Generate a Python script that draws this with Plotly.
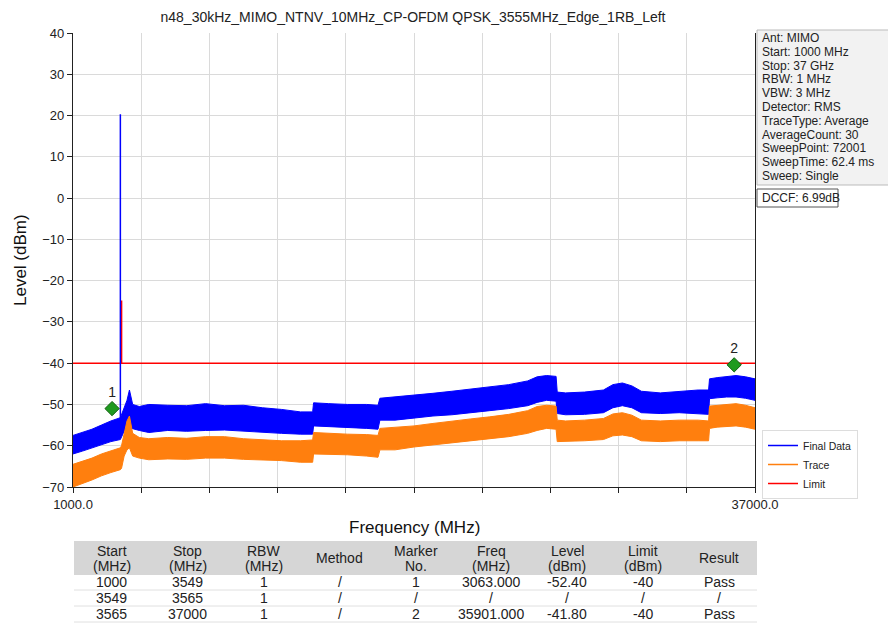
import plotly.graph_objects as go

# ---------------- data ----------------
freq_mhz = [1000, 1500, 2000, 2500, 3000, 3500, 3560, 3700, 3850, 3980, 4150, 4500, 5000, 6000, 7000,
            8000, 9000, 10000, 11000, 12000, 13000, 13650, 13700, 14500, 15500, 16500, 17100, 17200,
            18000, 19000, 20000, 21000, 22000, 23000, 24000, 25000, 25500, 26000, 26500, 26560, 27000,
            28000, 29000, 29500, 30000, 30500, 31000, 32000, 33000, 34000, 34550, 34600, 35000, 35500,
            36000, 36500, 37000]
final_upper = [-57.5, -56.8, -56.0, -55.0, -54.0, -53.2, -52.5, -50.5, -49.0, -46.5, -50.0, -50.5, -50.0,
               -50.2, -50.3, -49.8, -50.3, -50.2, -50.8, -51.2, -51.8, -51.8, -49.6, -49.8, -50.0, -50.0,
               -50.2, -48.5, -48.2, -47.8, -47.3, -46.8, -46.3, -45.8, -45.2, -44.3, -43.3, -43.0, -43.2,
               -47.0, -47.2, -47.0, -46.5, -45.2, -44.8, -45.5, -46.8, -47.2, -46.8, -46.5, -46.5, -43.8,
               -43.5, -43.2, -43.0, -43.3, -43.8]
final_lower = [-62.0, -61.3, -60.5, -59.8, -59.0, -58.5, -58.0, -56.5, -55.5, -55.5, -55.8, -56.3, -56.8,
               -56.3, -56.5, -56.3, -56.2, -56.5, -56.7, -57.0, -57.2, -57.2, -55.2, -55.3, -55.6, -55.8,
               -56.0, -53.8, -53.8, -53.3, -52.8, -52.5, -52.0, -51.5, -51.0, -50.3, -49.5, -49.0, -49.2,
               -52.2, -52.5, -52.4, -52.0, -50.8, -50.3, -50.8, -52.0, -52.2, -52.0, -52.2, -52.4, -48.6,
               -48.4, -48.2, -48.2, -48.5, -49.0]
trace_upper = [-64.5, -63.8, -63.0, -62.0, -61.2, -60.5, -60.0, -57.0, -54.0, -52.8, -57.0, -58.0, -58.3,
               -58.0, -58.2, -57.8, -57.8, -58.3, -58.5, -58.8, -58.8, -58.6, -56.8, -57.0, -57.2, -57.3,
               -57.5, -55.8, -55.5, -55.2, -54.6, -54.0, -53.5, -53.0, -52.4, -51.5, -50.5, -50.2, -50.4,
               -53.8, -54.0, -53.8, -53.4, -52.3, -52.0, -52.6, -53.8, -54.0, -53.8, -53.8, -54.0, -50.4,
               -50.2, -50.0, -49.8, -50.2, -50.8]
trace_lower = [-70.0, -69.2, -68.3, -67.3, -66.5, -65.8, -65.5, -62.5, -61.0, -60.5, -62.5, -63.0, -63.4,
               -63.2, -63.3, -63.0, -63.0, -63.3, -63.5, -63.6, -64.0, -64.0, -62.0, -62.0, -62.2, -62.5,
               -62.8, -61.0, -61.0, -60.3, -59.8, -59.3, -58.8, -58.3, -57.8, -57.0, -56.3, -55.8, -56.0,
               -59.0, -59.0, -58.8, -58.5, -57.6, -57.4, -57.8, -58.8, -59.0, -58.8, -58.8, -58.8, -55.8,
               -55.5, -55.3, -55.2, -55.5, -56.0]

carrier_freq = [3500, 3500]
carrier_level = [-56.0, 20.3]

limit_freq = [1000, 3549, 3549, 3565, 3565, 37000]
limit_level = [-40, -40, -25, -25, -40, -40]

marker_freq = [3063.0, 35901.0]
marker_level = [-51.0, -40.4]
marker_names = ["1", "2"]

info_lines = ["Ant: MIMO", "Start: 1000 MHz", "Stop: 37 GHz", "RBW: 1 MHz", "VBW: 3 MHz",
              "Detector: RMS", "TraceType: Average", "AverageCount: 30", "SweepPoint: 72001",
              "SweepTime: 62.4 ms", "Sweep: Single"]
dccf_text = "DCCF: 6.99dB"

hdr_line1 = ["Start", "Stop", "RBW", "Method", "Marker", "Freq", "Level", "Limit", "Result"]
hdr_line2 = ["(MHz)", "(MHz)", "(MHz)", "", "No.", "(MHz)", "(dBm)", "(dBm)", ""]
col_start = ["1000", "3549", "3565"]
col_stop = ["3549", "3565", "37000"]
col_rbw = ["1", "1", "1"]
col_method = ["/", "/", "/"]
col_marker = ["1", "/", "2"]
col_freq = ["3063.000", "/", "35901.000"]
col_level = ["-52.40", "/", "-41.80"]
col_limit = ["-40", "/", "-40"]
col_result = ["Pass", "/", "Pass"]

x_tickvals = [1000 + 3600 * i for i in range(11)]
x_ticktext = ["1000.0"] + [""] * 9 + ["37000.0"]

# ---------------- figure ----------------
# the page body has an 8px margin, so the figure is drawn 8px smaller and all
# reference-pixel positions are shifted by that offset
OFF = 8
W, H = 896 - OFF, 629 - OFF
L, R, T, B = 73 - OFF, 141, 32 - OFF, 4
PW, PH = W - L - R, H - T - B


def px(xp):
    return (xp - OFF - L) / PW


def py(yp):
    return (H - B - (yp - OFF)) / PH


FONT = "Arial, Liberation Sans, sans-serif"
BLUE, ORANGE, RED = "#0000ff", "#ff7f0e", "#ff0000"
TXT = "#222222"

fig = go.Figure()

fig.add_trace(go.Scatter(x=freq_mhz + freq_mhz[::-1], y=final_upper + final_lower[::-1],
                         fill="toself", fillcolor=BLUE, line=dict(color=BLUE, width=1),
                         mode="lines", showlegend=False, hoverinfo="skip"))
fig.add_trace(go.Scatter(x=freq_mhz + freq_mhz[::-1], y=trace_upper + trace_lower[::-1],
                         fill="toself", fillcolor=ORANGE, line=dict(color=ORANGE, width=1),
                         mode="lines", showlegend=False, hoverinfo="skip"))
fig.add_trace(go.Scatter(x=limit_freq, y=limit_level, mode="lines",
                         line=dict(color=RED, width=1.5), showlegend=False))
fig.add_trace(go.Scatter(x=carrier_freq, y=carrier_level, mode="lines",
                         line=dict(color=BLUE, width=1.5), showlegend=False))
fig.add_trace(go.Scatter(x=marker_freq, y=marker_level, mode="markers+text", text=marker_names,
                         textposition="top center", textfont=dict(size=14, color=TXT, family=FONT),
                         marker=dict(symbol="diamond", size=11, color="#1f9a1f",
                                     line=dict(color="#106010", width=1)),
                         showlegend=False))

# legend entries
for name, col in [("Final Data", BLUE), ("Trace", ORANGE), ("Limit", RED)]:
    fig.add_trace(go.Scatter(x=[None], y=[None], mode="lines", name=name,
                             line=dict(color=col, width=1.5)))

fig.update_layout(
    width=W, height=H, margin=dict(l=L, r=R, t=T, b=B, pad=0, autoexpand=False),
    paper_bgcolor="white", plot_bgcolor="white",
    font=dict(family=FONT, color=TXT),
    title=dict(text="n48_30kHz_MIMO_NTNV_10MHz_CP-OFDM QPSK_3555MHz_Edge_1RB_Left",
               x=(413 - OFF) / W, xanchor="center", y=1 - (17 - OFF) / H, yanchor="middle",
               font=dict(size=14, color=TXT, family=FONT)),
    showlegend=True,
    legend=dict(x=px(762), y=py(430), xanchor="left", yanchor="top",
                bgcolor="white", bordercolor="#dddddd", borderwidth=1,
                font=dict(size=10.5, color=TXT, family=FONT), tracegroupgap=0,
                itemwidth=30),
    xaxis=dict(range=[1000, 37000], tickvals=x_tickvals, ticktext=x_ticktext,
               showgrid=True, gridcolor="#dadada", gridwidth=1,
               showline=True, linecolor=TXT, linewidth=1.2,
               ticks="outside", ticklen=5, tickcolor=TXT,
               tickfont=dict(size=13, color=TXT, family=FONT), zeroline=False),
    yaxis=dict(domain=[py(487), py(33)], range=[-70, 40], dtick=10,
               showgrid=True, gridcolor="#dadada", gridwidth=1,
               showline=True, linecolor=TXT, linewidth=1.2, mirror=True,
               ticks="outside", ticklen=5, tickcolor=TXT,
               tickfont=dict(size=13, color=TXT, family=FONT), zeroline=False),
)

# axis titles
fig.add_annotation(text="Level (dBm)", xref="paper", yref="paper", x=px(20), y=py(260),
                   xanchor="center", yanchor="middle",
                   textangle=-90, showarrow=False, font=dict(size=17, color="#111", family=FONT))
fig.add_annotation(text="Frequency (MHz)", xref="paper", yref="paper", x=px(414), y=py(527),
                   xanchor="center", yanchor="middle",
                   showarrow=False, font=dict(size=17, color="#111", family=FONT))

# info box
fig.add_shape(type="rect", xref="paper", yref="paper", x0=px(757), x1=px(895), y0=py(185), y1=py(30),
              fillcolor="#f2f2f2", line=dict(color="#bbbbbb", width=1), layer="below")
for i, line in enumerate(info_lines):
    fig.add_annotation(text=line, xref="paper", yref="paper", x=px(761), y=py(38 + i * 13.8),
                       xanchor="left", yanchor="middle", showarrow=False, borderpad=0,
                       font=dict(size=12, color=TXT, family=FONT))
fig.add_shape(type="rect", xref="paper", yref="paper", x0=px(757), x1=px(838), y0=py(207), y1=py(189),
              fillcolor="white", line=dict(color="#555555", width=1))
fig.add_annotation(text=dccf_text, xref="paper", yref="paper", x=px(761), y=py(198),
                   xanchor="left", yanchor="middle", showarrow=False, borderpad=0,
                   font=dict(size=12, color=TXT, family=FONT))

# results table (drawn below the plot)
tbl_left, tbl_right = 74, 757
col_w = (tbl_right - tbl_left) / 9
fig.add_shape(type="rect", xref="paper", yref="paper", x0=px(tbl_left), x1=px(tbl_right),
              y0=py(575), y1=py(541), fillcolor="#d6d6d6", line=dict(width=0), layer="below")
for yl in [590, 606, 622]:
    fig.add_shape(type="line", xref="paper", yref="paper", x0=px(tbl_left), x1=px(tbl_right),
                  y0=py(yl), y1=py(yl), line=dict(color="#e0e0e0", width=1))
columns = [col_start, col_stop, col_rbw, col_method, col_marker, col_freq, col_level, col_limit, col_result]
for c in range(9):
    cx = px(tbl_left + col_w * (c + 0.5))
    if hdr_line2[c]:
        fig.add_annotation(text=hdr_line1[c], xref="paper", yref="paper", x=cx, y=py(551),
                           xanchor="center", yanchor="middle", showarrow=False, borderpad=0,
                           font=dict(size=14, color=TXT, family=FONT))
        fig.add_annotation(text=hdr_line2[c], xref="paper", yref="paper", x=cx, y=py(566),
                           xanchor="center", yanchor="middle", showarrow=False, borderpad=0,
                           font=dict(size=14, color=TXT, family=FONT))
    else:
        fig.add_annotation(text=hdr_line1[c], xref="paper", yref="paper", x=cx, y=py(558),
                           xanchor="center", yanchor="middle", showarrow=False, borderpad=0,
                           font=dict(size=14, color=TXT, family=FONT))
    for r_i, val in enumerate(columns[c]):
        fig.add_annotation(text=val, xref="paper", yref="paper", x=cx, y=py(582 + r_i * 16),
                           xanchor="center", yanchor="middle", showarrow=False, borderpad=0,
                           font=dict(size=14, color=TXT, family=FONT))

fig.write_html("out.html")
